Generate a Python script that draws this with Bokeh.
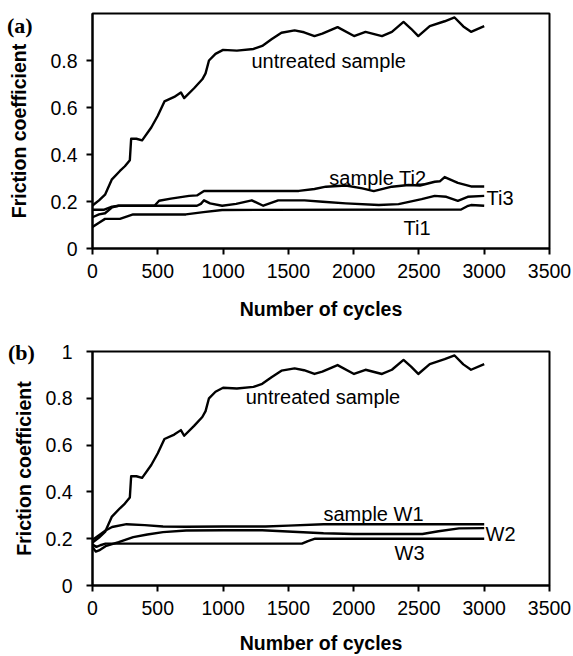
from bokeh.plotting import figure
from bokeh.models import Range1d, FixedTicker, CustomJSTickFormatter, Label, Div
from bokeh.layouts import column
from bokeh.embed import file_html
from bokeh.resources import INLINE

# ---------------- data ----------------
untreated_x = [0, 50, 96, 147, 210, 248, 286, 296, 336, 380, 450, 500, 551, 626, 677, 702,
               778, 841, 866, 892, 942, 1000, 1106, 1233, 1300, 1371, 1447, 1548, 1620, 1700,
               1760, 1877, 2003, 2091, 2217, 2293, 2382, 2440, 2495, 2583, 2697, 2773, 2840,
               2899, 3000]
untreated_y = [0.183, 0.205, 0.229, 0.293, 0.33, 0.35, 0.376, 0.467, 0.467, 0.46, 0.515, 0.565,
               0.626, 0.645, 0.664, 0.64, 0.682, 0.72, 0.745, 0.80, 0.828, 0.845, 0.842, 0.849,
               0.862, 0.89, 0.918, 0.928, 0.92, 0.904, 0.914, 0.942, 0.904, 0.922, 0.904, 0.922,
               0.964, 0.935, 0.904, 0.946, 0.967, 0.983, 0.945, 0.922, 0.946]

ti2_x = [0, 90, 150, 200, 475, 510, 600, 740, 800, 854, 1200, 1580, 1700, 1788, 1940, 2066,
         2154, 2293, 2420, 2508, 2621, 2660, 2697, 2798, 2899, 3000]
ti2_y = [0.165, 0.165, 0.178, 0.182, 0.182, 0.203, 0.212, 0.224, 0.226, 0.245, 0.245, 0.245,
         0.253, 0.263, 0.268, 0.256, 0.244, 0.263, 0.27, 0.268, 0.284, 0.286, 0.304, 0.279,
         0.264, 0.264]

ti3_x = [0, 50, 96, 150, 200, 800, 830, 854, 900, 993, 1100, 1220, 1308, 1422, 1624, 1763,
         1940, 2193, 2344, 2521, 2621, 2710, 2798, 2874, 3000]
ti3_y = [0.133, 0.145, 0.15, 0.175, 0.182, 0.182, 0.19, 0.205, 0.192, 0.182, 0.19, 0.205,
         0.182, 0.205, 0.205, 0.199, 0.192, 0.185, 0.189, 0.21, 0.224, 0.22, 0.203, 0.22, 0.224]

ti1_x = [0, 50, 96, 210, 311, 715, 850, 993, 2823, 2870, 2899, 3000]
ti1_y = [0.092, 0.11, 0.126, 0.126, 0.145, 0.145, 0.155, 0.164, 0.166, 0.18, 0.185, 0.182]

w1_x = [0, 50, 100, 150, 261, 400, 540, 717, 1000, 1325, 1500, 1769, 3000]
w1_y = [0.195, 0.215, 0.235, 0.25, 0.262, 0.258, 0.252, 0.251, 0.252, 0.252, 0.256, 0.262, 0.262]

w2_x = [0, 25, 50, 100, 200, 312, 420, 540, 717, 1000, 1300, 1769, 2000, 2527, 2650, 2807, 3000]
w2_y = [0.165, 0.145, 0.15, 0.168, 0.185, 0.207, 0.218, 0.228, 0.235, 0.236, 0.236, 0.223,
        0.22, 0.22, 0.232, 0.244, 0.245]

w3_x = [0, 30, 60, 100, 1604, 1650, 1705, 3000]
w3_y = [0.175, 0.165, 0.172, 0.179, 0.179, 0.19, 0.2, 0.2]

x_ticks = [0, 500, 1000, 1500, 2000, 2500, 3000, 3500]
y_ticks_a = [0, 0.2, 0.4, 0.6, 0.8]
y_ticks_b = [0, 0.2, 0.4, 0.6, 0.8, 1.0]

SANS = "Liberation Sans"
FS_TICK = "19.5px"
FS_TITLE = "19.5px"
FS_NOTE = "20px"

fmt_code = "return Number(tick.toFixed(1)).toString();"


def make_fig(height, left, right, top, bottom, yticks, ylab_standoff, ytitle_standoff,
             xlab_standoff, xtitle_standoff):
    p = figure(width=573, height=height, x_range=Range1d(0, 3500), y_range=Range1d(0, 1),
               output_backend="svg", toolbar_location=None,
               min_border_left=left, min_border_right=right,
               min_border_top=top, min_border_bottom=bottom)
    p.xgrid.visible = False
    p.ygrid.visible = False
    p.outline_line_color = "black"
    p.outline_line_width = 2
    p.background_fill_color = "white"
    p.border_fill_color = "white"
    for ax in (p.xaxis[0], p.yaxis[0]):
        ax.axis_line_width = 2
        ax.axis_line_color = "black"
        ax.major_tick_line_width = 2
        ax.major_tick_line_color = "black"
        ax.major_tick_in = 0
        ax.major_tick_out = 6
        ax.minor_tick_line_color = None
        ax.major_label_text_font = SANS
        ax.major_label_text_font_size = FS_TICK
        ax.major_label_text_color = "black"
        ax.axis_label_text_font = SANS
        ax.axis_label_text_font_size = FS_TITLE
        ax.axis_label_text_font_style = "bold"
        ax.axis_label_text_color = "black"
        ax.formatter = CustomJSTickFormatter(code=fmt_code)
    p.xaxis[0].ticker = FixedTicker(ticks=x_ticks)
    p.yaxis[0].ticker = FixedTicker(ticks=yticks)
    p.xaxis[0].axis_label = "Number of cycles"
    p.yaxis[0].axis_label = "Friction coefficient"
    p.yaxis[0].major_label_standoff = ylab_standoff
    p.yaxis[0].axis_label_standoff = ytitle_standoff
    p.xaxis[0].major_label_standoff = xlab_standoff
    p.xaxis[0].axis_label_standoff = xtitle_standoff
    return p


def add_note(p, x, y, text):
    p.add_layout(Label(x=x, y=y, text=text, text_font=SANS, text_font_size=FS_NOTE,
                       text_baseline="alphabetic", text_align="left", text_color="black"))


def panel_tag(text, left, top):
    html = ('<span style="font-family: \'Liberation Serif\'; font-size: 22px; '
            'font-weight: bold; line-height: 22px; color: black;">%s</span>' % text)
    return Div(text=html, width=40, height=24,
               styles={"position": "absolute", "left": "%dpx" % left, "top": "%dpx" % top,
                       "z-index": "10", "margin": "0", "padding": "0",
                       "line-height": "22px"})


LW = 2.4

# ---------------- panel (a) ----------------
pa = make_fig(322, 87, 24, 13, 70, y_ticks_a, 9, 17, 9, 17)
for xs, ys in ((untreated_x, untreated_y), (ti2_x, ti2_y), (ti3_x, ti3_y), (ti1_x, ti1_y)):
    pa.line(xs, ys, line_color="black", line_width=LW, line_join="round")
add_note(pa, 1217, 0.80, "untreated sample")
add_note(pa, 1814, 0.30, "sample Ti2")
add_note(pa, 3018, 0.217, "Ti3")
add_note(pa, 2382, 0.0875, "Ti1")

# ---------------- panel (b) ----------------
pb = make_fig(334, 92, 20, 29, 66, y_ticks_b, 14, 7, 9, 14)
for xs, ys in ((untreated_x, untreated_y), (w1_x, w1_y), (w2_x, w2_y), (w3_x, w3_y)):
    pb.line(xs, ys, line_color="black", line_width=LW, line_join="round")
add_note(pb, 1173, 0.807, "untreated sample")
add_note(pb, 1769, 0.307, "sample W1")
add_note(pb, 3010, 0.218, "W2")
add_note(pb, 2313, 0.14, "W3")

tag_a = panel_tag("(a)", 7, 15)
tag_b = panel_tag("(b)", 8, 342)

layout = column(pa, pb, tag_a, tag_b)
open("out.html", "w").write(file_html(layout, INLINE))
